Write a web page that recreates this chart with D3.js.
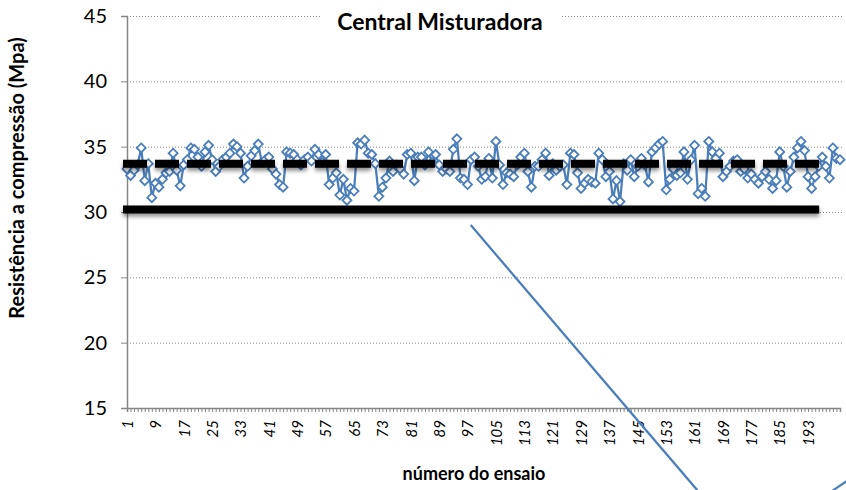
<!DOCTYPE html>
<html>
<head>
<meta charset="utf-8">
<script src="https://cdn.jsdelivr.net/npm/d3@7/dist/d3.min.js"></script>
<style>
  body { margin: 0; background: #fff; }
  text { font-family: Lato, "Open Sans", sans-serif; fill: #000; }
</style>
</head>
<body>
<div id="chart"></div>
<script>
// resistência de cada ensaio (Mpa)
var resistencia = [
  33.3, 32.8, 33.2, 33.6, 34.9, 32.4, 33.7, 31.1, 32.2, 31.9,
  32.5, 33.0, 33.1, 34.5, 33.2, 32.0, 33.6, 34.0, 34.9, 34.8,
  34.2, 33.5, 34.6, 35.1, 34.0, 33.1, 33.5, 34.0, 34.2, 34.5,
  35.2, 35.0, 34.5, 32.6, 33.5, 34.3, 34.7, 35.2, 33.8, 34.0,
  34.2, 33.3, 32.9, 32.1, 31.9, 34.6, 34.5, 34.4, 34.0, 33.6,
  34.0, 34.2, 33.9, 34.8, 34.4, 33.8, 34.4, 32.1, 32.6, 33.0,
  31.3, 32.5, 30.9, 31.8, 31.6, 35.3, 35.2, 35.5, 34.5, 34.4,
  33.7, 31.2, 31.9, 32.6, 33.9, 33.1, 33.6, 33.3, 32.9, 34.4,
  34.5, 32.4, 34.2, 34.2, 33.6, 34.6, 33.8, 34.4, 33.6, 33.1,
  33.3, 33.1, 34.8, 35.6, 32.6, 32.5, 32.1, 34.0, 34.2, 33.5,
  32.5, 32.7, 34.1, 32.6, 35.4, 33.6, 32.1, 33.0, 32.9, 32.7,
  33.6, 34.2, 34.5, 33.1, 31.9, 33.5, 33.5, 34.0, 34.5, 32.8,
  33.7, 33.2, 33.5, 33.6, 32.1, 34.5, 34.4, 33.0, 31.8, 32.2,
  32.5, 32.3, 32.2, 34.5, 34.0, 32.7, 33.1, 31.0, 32.4, 30.8,
  33.7, 33.2, 34.0, 32.7, 33.5, 34.1, 33.6, 32.3, 34.6, 34.9,
  35.2, 35.4, 31.7, 32.5, 33.3, 32.8, 33.0, 34.6, 32.5, 34.0,
  35.1, 31.4, 31.8, 31.2, 35.4, 34.6, 34.1, 34.5, 32.7, 33.1,
  33.5, 33.9, 34.0, 33.1, 33.3, 32.6, 32.9, 32.5, 32.2, 32.7,
  33.1, 32.5, 31.8, 32.4, 34.6, 33.5, 31.9, 33.1, 34.2, 34.9,
  35.4, 34.7, 32.7, 31.8, 32.7, 33.5, 34.2, 33.5, 32.6, 34.9,
  34.1, 34.0
];
var ensaios = resistencia.map(function(d, i){ return i + 1 });
var rotulosX = [1, 9, 17, 25, 33, 41, 49, 57, 65, 73, 81, 89, 97, 105, 113, 121,
                129, 137, 145, 153, 161, 169, 177, 185, 193];
var ticksY = [15, 20, 25, 30, 35, 40, 45];

// linhas de referência (valor, último ensaio)
var media = 33.7;
var limite = 30.2;
var fimReferencia = 195;

// traços azuis soltos, em unidades do gráfico [ensaio, Mpa]
var tracos = [
  [[97.9, 29.0], [161.8, 8.7]],
  [[200.0, 8.7], [204.4, 9.5]]
];

var width = 846, height = 490;
var azul = '#4a7ebb', cinza = '#868686';

var svg = d3.select("#chart").append("svg")
    .attr("width", width)
    .attr("height", height)

var x = d3.scaleLinear().domain([1, ensaios.length]).range([127, 840])
var y = d3.scaleLinear().domain([15, 45]).range([408, 16])

// sombra (linha horizontal tem altura zero, então região em coordenadas do usuário)
var defs = svg.append('defs')
defs.append('filter')
    .attr('id', 'sombra')
    .attr('filterUnits', 'userSpaceOnUse')
    .attr('x', 0).attr('y', 0)
    .attr('width', width).attr('height', height)
  .append('feDropShadow')
    .attr('dx', 0).attr('dy', 3)
    .attr('stdDeviation', 2)
    .attr('flood-color', '#000')
    .attr('flood-opacity', 0.45)

// grade pontilhada
svg.selectAll('grade')
    .data(ticksY.filter(function(d){ return d > 15 }))
    .enter()
    .append('line')
    .attr('x1', x.range()[0])
    .attr('x2', x.range()[1] + 2)
    .attr('y1', function(d){ return y(d) + 0.5 })
    .attr('y2', function(d){ return y(d) + 0.5 })
    .style('stroke', cinza)
    .style('stroke-width', 1)
    .style('stroke-dasharray', '1,2')

// eixo y
var eixoY = svg.append('g')
    .attr('transform', 'translate(' + x.range()[0] + ',0)')
    .call(d3.axisLeft(y).tickValues(ticksY).tickSize(6).tickPadding(14))
eixoY.select('.domain').style('stroke', cinza).style('stroke-width', 1.5)
eixoY.selectAll('.tick line').style('stroke', cinza)
eixoY.selectAll('.tick text')
    .style('font-size', '20px')

// eixo x: marcas de cada ensaio
var eixoX = svg.append('g')
    .attr('transform', 'translate(0,' + y.range()[0] + ')')
    .call(d3.axisBottom(x).tickValues(ensaios).tickSize(4).tickFormat(''))
eixoX.select('.domain').style('stroke', cinza).style('stroke-width', 1.5)
eixoX.selectAll('.tick line').style('stroke', cinza)

// rótulos do eixo x, girados
var rotulos = svg.append('g')
    .attr('transform', 'translate(0,' + y.range()[0] + ')')
    .call(d3.axisBottom(x).tickValues(rotulosX).tickSize(0).tickFormat(d3.format('d')))
rotulos.select('.domain').remove()
rotulos.selectAll('.tick text')
    .attr('transform', 'rotate(-90)')
    .attr('x', -12)
    .attr('y', 0)
    .attr('dy', '0.35em')
    .style('text-anchor', 'end')
    .style('font-style', 'italic')
    .style('font-size', '15px')

// série de ensaios
var linha = d3.line()
    .x(function(d, i){ return x(ensaios[i]) })
    .y(function(d){ return y(d) })

svg.append('path')
    .datum(resistencia)
    .attr('d', linha)
    .style('fill', 'none')
    .style('stroke', azul)
    .style('stroke-width', 2.25)
    .style('stroke-linejoin', 'round')

svg.selectAll('marcador')
    .data(resistencia)
    .enter()
    .append('path')
    .attr('transform', function(d, i){
        return 'translate(' + x(ensaios[i]) + ',' + y(d) + ')' })
    .attr('d', 'M0,-4.5L4.5,0L0,4.5L-4.5,0Z')
    .style('fill', '#fff')
    .style('stroke', azul)
    .style('stroke-width', 1.8)

// linhas de referência
svg.append('line')
    .attr('x1', x(1) - 4)
    .attr('x2', x(fimReferencia) + 4)
    .attr('y1', y(limite))
    .attr('y2', y(limite))
    .style('stroke', '#000')
    .style('stroke-width', 8)
    .attr('filter', 'url(#sombra)')

svg.append('line')
    .attr('x1', x(1) - 4)
    .attr('x2', x(fimReferencia) + 4)
    .attr('y1', y(media))
    .attr('y2', y(media))
    .style('stroke', '#000')
    .style('stroke-width', 8)
    .style('stroke-dasharray', '24,8')
    .attr('filter', 'url(#sombra)')

// traços azuis
svg.selectAll('traco')
    .data(tracos)
    .enter()
    .append('line')
    .attr('x1', function(d){ return x(d[0][0]) })
    .attr('y1', function(d){ return y(d[0][1]) })
    .attr('x2', function(d){ return x(d[1][0]) })
    .attr('y2', function(d){ return y(d[1][1]) })
    .style('stroke', azul)
    .style('stroke-width', 2.25)

// título
svg.append('rect')
    .attr('x', 321)
    .attr('y', 4)
    .attr('width', 241)
    .attr('height', 28)
    .style('fill', '#fff')
svg.append('text')
    .attr('x', 440)
    .attr('y', 30)
    .attr('text-anchor', 'middle')
    .style('font-weight', 'bold')
    .style('font-size', '23px')
    .text('Central Misturadora')

// títulos dos eixos
svg.append('text')
    .attr('transform', 'translate(24,178) rotate(-90)')
    .attr('text-anchor', 'middle')
    .style('font-weight', 'bold')
    .style('font-size', '20px')
    .text('Resistência a compressão (Mpa)')

svg.append('text')
    .attr('x', 474)
    .attr('y', 480)
    .attr('text-anchor', 'middle')
    .style('font-weight', 'bold')
    .style('font-size', '18px')
    .text('número do ensaio')
</script>
</body>
</html>
